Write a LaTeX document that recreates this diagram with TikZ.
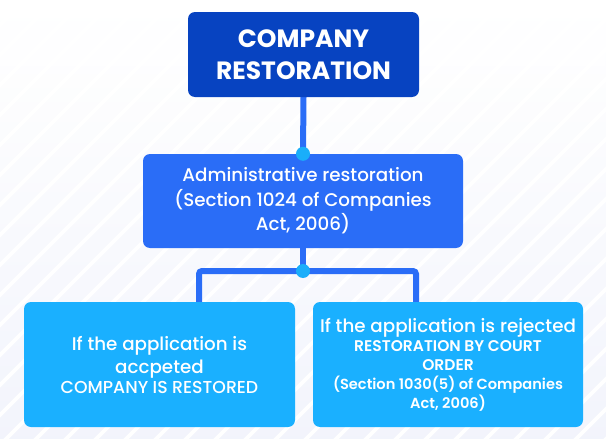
\documentclass[tikz,border=0pt]{standalone}
\usepackage{fontspec}
\setmainfont{Poppins}
\newfontfamily\pmed{Poppins Medium}
\newfontfamily\psemi{Poppins SemiBold}
\usetikzlibrary{fadings,backgrounds}
\definecolor{cdark}{RGB}{7,67,193}
\definecolor{cmid}{RGB}{42,109,247}
\definecolor{clight}{RGB}{26,176,255}
\definecolor{cdot}{RGB}{26,174,250}
\definecolor{cbg}{RGB}{234,237,250}
\tikzfading[name=fadedown, top color=transparent!0, bottom color=transparent!100]
\begin{document}
\begin{tikzpicture}[x=1pt,y=-1pt,
  box/.style={rounded corners=7pt, align=center, text=white, inner sep=0pt},
  conn/.style={draw=cmid, line width=6pt},
  dotc/.style={circle, fill=cdot, minimum size=14pt, inner sep=0pt}]
\useasboundingbox (0,0) rectangle (606,439);
\begin{scope}[on background layer]
  \shade[top color=white, middle color=cbg, bottom color=cbg!60!white] (0,0) rectangle (606,439);
  \begin{scope}
    \clip (0,0) rectangle (606,439);
    \foreach \i in {-17,...,21} \draw[white, line width=3.6pt] (\i*30+15, 460) -- ++(480,-480);
  \end{scope}
  \fill[white, path fading=fadedown] (0,0) rectangle (606,130);
\end{scope}

\node[box, fill=cdark, minimum width=231pt, minimum height=85pt,
      font=\bfseries\fontsize{25}{32}\selectfont] (top) at (303.5,54.5) {COMPANY\\RESTORATION};
\node[box, fill=cmid, minimum width=320pt, minimum height=94pt,
      font=\pmed\fontsize{18.3}{24.5}\selectfont] (mid) at (303,201)
      {Administrative restoration\\(Section 1024 of Companies\\Act, 2006)};
\node[box, fill=clight, minimum width=271pt, minimum height=125pt,
      font=\pmed\fontsize{18.3}{23}\selectfont] (left) at (159.5,364.5)
      {If the application is\\accpeted\\[-3pt]{\fontsize{17.3}{20}\selectfont COMPANY IS RESTORED}};
\node[box, fill=clight, minimum width=270pt, minimum height=125pt,
      font=\psemi\fontsize{15.5}{19}\selectfont] (right) at (448,364.5)
      {{\pmed\fontsize{18.3}{20}\selectfont If the application is rejected}\\RESTORATION BY COURT\\ORDER\\{\fontsize{14.6}{19}\selectfont (Section 1030(5) of Companies}\\{\fontsize{14.6}{19}\selectfont Act, 2006)}};

\coordinate (j) at (303,271);
\coordinate (jl) at (199,271);
\coordinate (jr) at (416,271);
\begin{scope}[on background layer]
  \draw[conn] (top.south) -- (mid.north);
  \draw[conn] (mid.south) -- (j);
  \draw[conn, rounded corners=3pt] (jl |- left.north) -- (jl) -- (jr) -- (jr |- right.north);
\end{scope}
\node[dotc] (d1) at (mid.north) {};
\node[dotc] (d2) at (j) {};
\end{tikzpicture}
\end{document}
